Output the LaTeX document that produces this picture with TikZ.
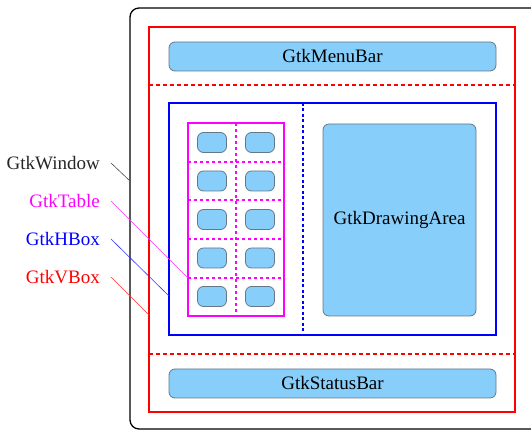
\documentclass[tikz,border=0pt]{standalone}
\usepackage{fontspec}
\setmainfont{Liberation Serif}
\usetikzlibrary{calc}
\definecolor{widgetblue}{RGB}{135,206,250}
\definecolor{widgetedge}{RGB}{100,120,135}
\definecolor{vboxred}{RGB}{255,0,0}
\definecolor{hboxblue}{RGB}{0,0,255}
\definecolor{tablepink}{RGB}{255,0,255}
\tikzset{
	widget/.style={draw=widgetedge, fill=widgetblue, rounded corners=6pt, line width=0.8pt, inner sep=0pt},
	cellbtn/.style={widget, minimum width=29pt, minimum height=20pt},
	tag/.style={anchor=east, inner sep=0pt},
	pointer/.style={line width=0.6pt}
}

\begin{document}
\begin{tikzpicture}[x=1pt, y=-1pt, font=\fontsize{19}{21}\selectfont]
			%%%%% START %%%%%
			\useasboundingbox (0, 0) rectangle (531, 430);
			\clip (0, 0) rectangle (531, 430);
			
			% GtkWindow
			\draw[line width=1.3pt, rounded corners=9pt] (130, 8) rectangle (545, 429);
			
			% GtkVBox
			\draw[line width=1.1pt, color=vboxred] (149, 27) rectangle (515, 412);
			\draw[line width=1.1pt, color=vboxred, dash pattern=on 4pt off 3pt] (149, 85) -- (515, 85);
			\draw[line width=1.1pt, color=vboxred, dash pattern=on 4pt off 3pt] (149, 354) -- (515, 354);
			
			\node[widget, minimum width=327pt, minimum height=29pt] (menubar) at (332.5, 56.5) {GtkMenuBar};
			\node[widget, minimum width=327pt, minimum height=29pt] (statusbar) at (332.5, 383.5) {GtkStatusBar};
			
			% GtkHBox
			\draw[line width=1.1pt, color=hboxblue] (169, 103) rectangle (496, 335);
			\draw[line width=1.1pt, color=hboxblue, dash pattern=on 3pt off 2.5pt] (303, 103) -- (303, 335);
			
			\node[widget, minimum width=153pt, minimum height=192pt] (drawarea) at (399.5, 220) {GtkDrawingArea};
			
			% GtkTable
			\draw[line width=1.1pt, color=tablepink] (188, 123) rectangle (284, 316);
			\draw[line width=1.1pt, color=tablepink, dash pattern=on 3pt off 3pt] (236, 123) -- (236, 316);
			\draw[line width=1.1pt, color=tablepink, dash pattern=on 3pt off 3pt] (188, 162) -- (284, 162);
			\draw[line width=1.1pt, color=tablepink, dash pattern=on 3pt off 3pt] (188, 200) -- (284, 200);
			\draw[line width=1.1pt, color=tablepink, dash pattern=on 3pt off 3pt] (188, 239) -- (284, 239);
			\draw[line width=1.1pt, color=tablepink, dash pattern=on 3pt off 3pt] (188, 278) -- (284, 278);
			
			\node[cellbtn] (cell11) at (212, 142.5) {};
			\node[cellbtn] (cell12) at (260, 142.5) {};
			\node[cellbtn] (cell21) at (212, 181) {};
			\node[cellbtn] (cell22) at (260, 181) {};
			\node[cellbtn] (cell31) at (212, 219.5) {};
			\node[cellbtn] (cell32) at (260, 219.5) {};
			\node[cellbtn] (cell41) at (212, 258) {};
			\node[cellbtn] (cell42) at (260, 258) {};
			\node[cellbtn] (cell51) at (212, 296.5) {};
			\node[cellbtn] (cell52) at (260, 296.5) {};
			
			% labels
			\node[tag, color=black!85] (lwindow) at (100, 163) {GtkWindow};
			\node[tag, color=tablepink] (ltable) at (100, 201) {GtkTable};
			\node[tag, color=hboxblue] (lhbox) at (100, 239) {GtkHBox};
			\node[tag, color=vboxred] (lvbox) at (100, 277) {GtkVBox};
			
			\coordinate (pwindow) at (130, 181);
			\coordinate (ptable) at (188, 278);
			\coordinate (phbox) at (169, 296);
			\coordinate (pvbox) at (149, 315);
			
			\draw[pointer, color=black!70] ($(lwindow.east)+(11, 0)$) -- (pwindow);
			\draw[pointer, color=tablepink!80] ($(ltable.east)+(11, 0)$) -- (ptable);
			\draw[pointer, color=hboxblue!80] ($(lhbox.east)+(11, 0)$) -- (phbox);
			\draw[pointer, color=vboxred!80] ($(lvbox.east)+(11, 0)$) -- (pvbox);
			
			%%%%% END %%%%%
\end{tikzpicture}
\end{document}
